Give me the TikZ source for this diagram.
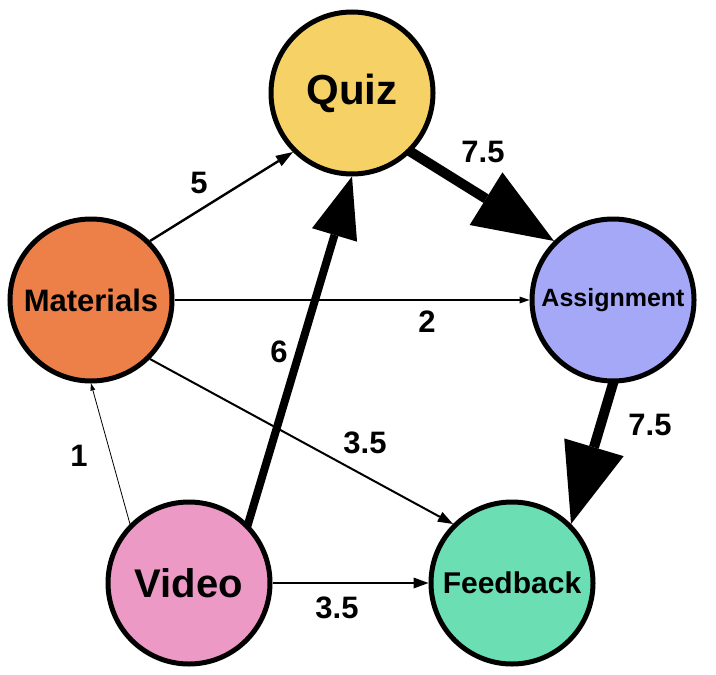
\documentclass[tikz,border=0pt]{standalone}
\usepackage{fontspec}
\setmainfont{Liberation Sans}
\usetikzlibrary{arrows.meta}

\definecolor{quizfill}{RGB}{246,209,101}
\definecolor{matfill}{RGB}{236,128,72}
\definecolor{assignfill}{RGB}{165,168,246}
\definecolor{videofill}{RGB}{236,153,198}
\definecolor{feedfill}{RGB}{107,223,179}

\begin{document}
\begin{tikzpicture}[x=0.5pt, y=-0.5pt,
    topic/.style={circle, draw, line width=2.5pt, minimum size=81pt, inner sep=0pt},
    wlabel/.style={font=\fontsize{15.5}{18}\selectfont\bfseries},
    w1/.style={line width=0.4pt, -{Triangle[length=3.5pt, width=2.5pt, line width=0pt]}},
    w2/.style={line width=0.7pt, -{Triangle[length=5pt, width=3.5pt, line width=0pt]}},
    w35/.style={line width=1pt, -{Triangle[length=7.5pt, width=5.5pt, line width=0pt]}},
    w5/.style={line width=1.2pt, -{Triangle[length=8.5pt, width=6pt, line width=0pt]}},
    w6/.style={line width=4pt, shorten <=-1.5pt, -{Triangle[length=30.5pt, width=23.5pt, line width=0pt]}},
    w75/.style={line width=5pt, shorten <=-1.5pt, -{Triangle[length=40pt, width=31pt, line width=0pt]}}]
    \useasboundingbox (0,0) rectangle (716,674);

    \node[topic, fill=quizfill, font=\fontsize{21}{25}\selectfont\bfseries] (quiz) at (352,93) {Quiz};
    \node[topic, fill=matfill, font=\fontsize{15.5}{18}\selectfont\bfseries] (materials) at (91,300) {Materials};
    \node[topic, fill=assignfill, font=\fontsize{12.5}{15}\selectfont\bfseries] (assign) at (613,300) {Assignment};
    \node[topic, fill=videofill, font=\fontsize{20}{24}\selectfont\bfseries] (video) at (189,583) {Video};
    \node[topic, fill=feedfill, font=\fontsize{15}{18}\selectfont\bfseries] (feedback) at (512,583) {Feedback};

    % Weighted edges
    \draw[w5] (materials.45) -- (quiz.225);
    \draw[w75] (quiz.-45) -- (assign.135);
    \draw[w2] (materials.0) -- (assign.180);
    \draw[w75] (assign.-90) -- (feedback.45);
    \draw[w35] (materials.-45) -- (feedback.135);
    \draw[w1] (video.135) -- (materials.-90);
    \draw[w6] (video.45) -- (quiz.-90);
    \draw[w35] (video.0) -- (feedback.180);

    % Edge weights
    \foreach \lname/\lx/\ly/\ltext in {lmq/199/183/5, lqa/483/152/7.5, lma/427/322/2,
        laf/650/425/7.5, lmf/365/443/3.5, lvm/79/456/1, lvq/279/352/6, lvf/337/608/3.5}
        \node[wlabel] (\lname) at (\lx,\ly) {\ltext};
\end{tikzpicture}
\end{document}
